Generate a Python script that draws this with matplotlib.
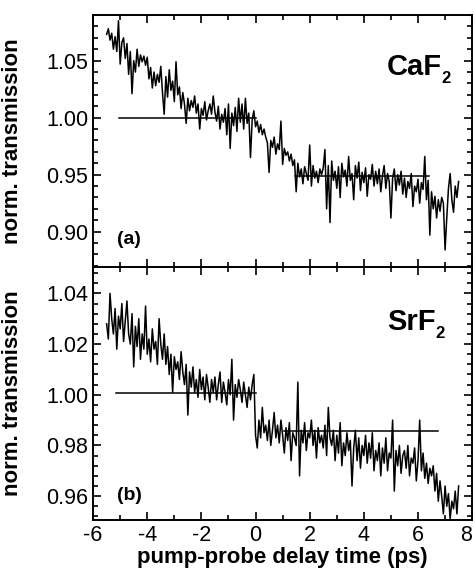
import matplotlib.pyplot as plt
from matplotlib.ticker import MultipleLocator

plt.rcParams['font.family'] = ['Liberation Sans', 'DejaVu Sans']

# delay axis: start and step of the scan (ps)
t_start = -5.5
t_step = 0.0625

# CaF2 trace, one row per ps
caf2 = [
    1.073, 1.078, 1.068, 1.074, 1.060, 1.071, 1.058, 1.085, 1.047, 1.066, 1.070, 1.052, 1.065, 1.038, 1.058, 1.021,
    1.050, 1.040, 1.060, 1.045, 1.055, 1.049, 1.054, 1.046, 1.053, 1.034, 1.044, 1.026, 1.040, 1.028, 1.038, 1.031,
    1.045, 1.022, 1.003, 1.036, 1.018, 1.042, 1.024, 1.032, 1.014, 1.049, 1.020, 1.027, 1.008, 1.022, 1.012, 0.995,
    1.017, 1.006, 1.015, 1.009, 1.019, 1.004, 1.012, 0.990, 1.008, 1.002, 1.014, 0.998, 1.006, 1.012, 1.003, 1.019,
    1.005, 0.997, 1.010, 0.990, 1.003, 0.996, 1.008, 0.985, 1.012, 0.973, 1.004, 0.993, 1.009, 0.988, 1.017, 0.996,
    1.012, 0.990, 1.017, 0.995, 1.004, 0.965, 0.998, 1.006, 0.992, 0.997, 0.987, 0.994, 0.985, 0.990, 0.983, 0.978,
    0.952, 0.980, 0.974, 0.983, 0.968, 0.977, 0.972, 0.997, 0.959, 0.973, 0.967, 0.970, 0.962, 0.968, 0.958, 0.963,
    0.935, 0.960, 0.948, 0.955, 0.942, 0.957, 0.951, 0.945, 0.976, 0.940, 0.958, 0.947, 0.953, 0.943, 0.955, 0.950,
    0.956, 0.972, 0.920, 0.958, 0.908, 0.962, 0.945, 0.953, 0.938, 0.957, 0.930, 0.960, 0.948, 0.954, 0.940, 0.966,
    0.945, 0.951, 0.928, 0.958, 0.947, 0.961, 0.936, 0.952, 0.943, 0.956, 0.931, 0.950, 0.946, 0.959, 0.940, 0.953,
    0.942, 0.955, 0.935, 0.949, 0.958, 0.938, 0.951, 0.944, 0.912, 0.947, 0.955, 0.936, 0.950, 0.941, 0.953, 0.933,
    0.947, 0.930, 0.944, 0.938, 0.951, 0.922, 0.940, 0.935, 0.946, 0.925, 0.943, 0.937, 0.966, 0.928, 0.945, 0.897,
    0.935, 0.920, 0.931, 0.912, 0.928, 0.918, 0.930, 0.925, 0.884, 0.912, 0.938, 0.951, 0.928, 0.917, 0.940, 0.930, 0.944,
]

# SrF2 trace
srf2 = [
    1.028, 1.022, 1.040, 1.030, 1.024, 1.034, 1.018, 1.031, 1.026, 1.036, 1.021, 1.029, 1.037, 1.024, 1.020, 1.032,
    1.011, 1.027, 1.019, 1.030, 1.014, 1.024, 1.018, 1.035, 1.016, 1.022, 1.013, 1.026, 1.018, 1.021, 1.012, 1.030,
    1.020, 1.014, 1.024, 1.012, 1.019, 1.008, 1.016, 1.001, 1.015, 1.010, 1.013, 1.006, 1.017, 1.009, 1.004, 1.012,
    0.992, 1.009, 1.003, 1.011, 1.001, 1.006, 0.999, 1.010, 1.002, 1.007, 0.998, 1.008, 1.003, 0.997, 1.006, 1.001,
    1.007, 0.998, 1.004, 1.009, 0.997, 1.005, 1.001, 0.996, 1.006, 1.000, 1.014, 0.990, 1.004, 0.999, 1.006, 1.002,
    0.997, 1.005, 1.000, 0.995, 1.003, 0.998, 1.004, 1.008, 0.984, 0.979, 0.990, 0.983, 0.995, 0.985, 0.988, 0.982,
    0.990, 0.980, 0.986, 0.993, 0.983, 0.988, 0.981, 0.990, 0.984, 0.977, 0.987, 0.982, 0.989, 0.974, 0.985, 0.983,
    0.980, 1.005, 0.968, 0.986, 0.981, 0.989, 0.978, 0.985, 0.983, 0.990, 0.980, 0.986, 0.975, 0.987, 0.981, 0.984,
    0.979, 0.988, 0.976, 0.995, 0.983, 0.980, 0.986, 0.974, 0.984, 0.977, 0.989, 0.972, 0.981, 0.976, 0.985, 0.978,
    0.982, 0.964, 0.979, 0.986, 0.974, 0.983, 0.971, 0.980, 0.976, 0.984, 0.973, 0.981, 0.975, 0.985, 0.970, 0.978,
    0.974, 0.981, 0.968, 0.979, 0.973, 0.983, 0.970, 0.977, 0.975, 0.990, 0.962, 0.978, 0.972, 0.980, 0.969, 0.976,
    0.978, 0.971, 0.980, 0.968, 0.975, 0.973, 0.979, 0.966, 0.974, 0.990, 0.970, 0.977, 0.967, 0.973, 0.965, 0.971,
    0.968, 0.972, 0.962, 0.969, 0.958, 0.966, 0.960, 0.953, 0.964, 0.956, 0.961, 0.951, 0.958, 0.955, 0.962, 0.953, 0.964,
]

# horizontal level lines (x from, x to, level)
caf2_levels = [(-5.05, 0.0, 1.000), (1.45, 6.4, 0.949)]
srf2_levels = [(-5.15, 0.02, 1.0006), (1.05, 6.73, 0.9858)]

t_caf2 = [t_start + i * t_step for i in range(len(caf2))]
t_srf2 = [t_start + i * t_step for i in range(len(srf2))]

fig = plt.figure(figsize=(4.75, 5.78), dpi=100)
ax1 = fig.add_axes([0.196, 0.538, 0.798, 0.436])
ax2 = fig.add_axes([0.196, 0.100, 0.798, 0.438])

ax1.plot(t_caf2, caf2, color='black', lw=1.1)
for x0, x1, y in caf2_levels:
    ax1.plot([x0, x1], [y, y], color='black', lw=1.1)
ax2.plot(t_srf2, srf2, color='black', lw=1.1)
for x0, x1, y in srf2_levels:
    ax2.plot([x0, x1], [y, y], color='black', lw=1.1)

ax1.set_ylim(0.869, 1.090)
ax2.set_ylim(0.9505, 1.0504)
ax1.yaxis.set_major_locator(MultipleLocator(0.05))
ax1.yaxis.set_minor_locator(MultipleLocator(0.01))
ax2.yaxis.set_major_locator(MultipleLocator(0.02))
ax2.yaxis.set_minor_locator(MultipleLocator(0.004))
ax1.yaxis.set_major_formatter(plt.FormatStrFormatter('%.2f'))
ax2.yaxis.set_major_formatter(plt.FormatStrFormatter('%.2f'))

for ax in (ax1, ax2):
    ax.set_xlim(-6, 8)
    ax.xaxis.set_major_locator(MultipleLocator(2))
    ax.xaxis.set_minor_locator(MultipleLocator(1))
    ax.tick_params(which='both', direction='in', top=True, right=True,
                   width=1.2, labelsize=15.5)
    ax.tick_params(which='major', length=6)
    ax.tick_params(which='minor', length=3.5)
    for s in ax.spines.values():
        s.set_linewidth(1.4)
    ax.set_ylabel('norm. transmission', fontsize=16, fontweight='bold')
    ax.yaxis.set_label_coords(-0.185, 0.5)

ax1.tick_params(labelbottom=False)
ax2.set_xticks(range(-6, 9, 2))
ax2.set_xticklabels(['-6', '-4', '-2', '0', '2', '4', '6', '8'])
ax2.get_xticklabels()[-1].set_horizontalalignment('right')
ax2.set_xlabel('pump-probe delay time (ps)', fontsize=16, fontweight='bold', labelpad=1)

for ax, name, ty in ((ax1, 'CaF', 0.794), (ax2, 'SrF', 0.783)):
    t = ax.text(0.776, ty, name, transform=ax.transAxes, fontsize=21,
                fontweight='bold', va='center', ha='left')
    ax.annotate('2', xy=(1.0, 0.08), xycoords=t, xytext=(-0.5, 0),
                textcoords='offset points', fontsize=12, fontweight='bold',
                va='center', ha='left')

ax1.text(0.063, 0.111, '(a)', transform=ax1.transAxes, fontsize=14,
         fontweight='bold', va='center', ha='left')
ax2.text(0.063, 0.099, '(b)', transform=ax2.transAxes, fontsize=14,
         fontweight='bold', va='center', ha='left')

plt.savefig('out.png', dpi=100)
